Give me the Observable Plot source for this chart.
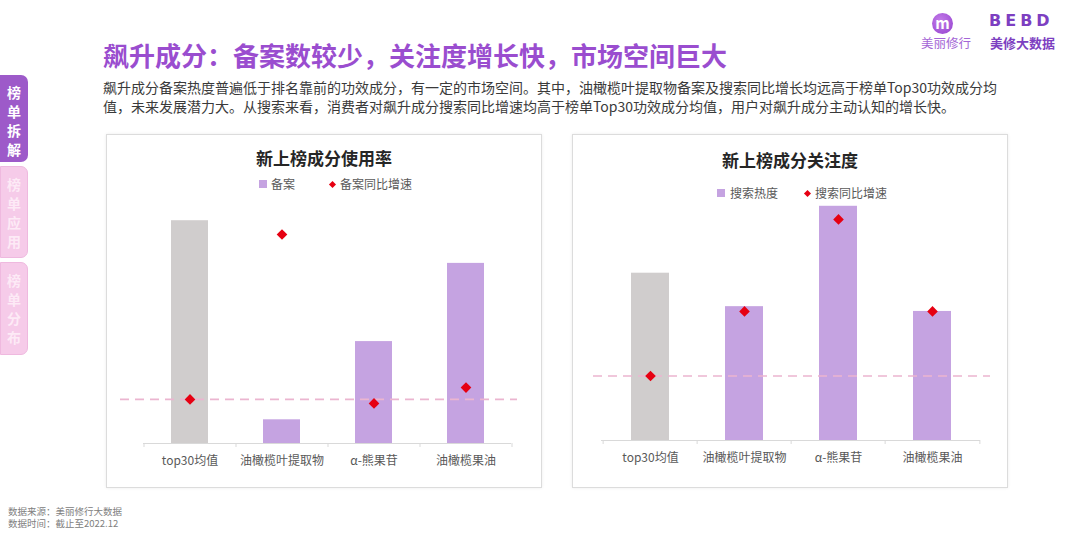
<!DOCTYPE html>
<html><head><meta charset="utf-8">
<script src="https://cdn.jsdelivr.net/npm/d3@7"></script>
<script src="https://cdn.jsdelivr.net/npm/@observablehq/plot@0.6"></script>
<style>
html,body{margin:0;padding:0;background:#fff;}
body{width:1080px;height:540px;position:relative;overflow:hidden;font-family:"Noto Sans CJK SC","Noto Sans",sans-serif;}
.abs{position:absolute;white-space:nowrap;}
.panel{position:absolute;border:1px solid #dcdcdc;box-shadow:0 0 3px rgba(0,0,0,0.08);background:#fff;}
.ptitle{position:absolute;font-size:17px;font-weight:bold;color:#262626;text-align:center;line-height:20px;}
.leg{position:absolute;font-size:12px;color:#595959;line-height:14px;white-space:nowrap;}
.sq{position:absolute;width:8px;height:8px;background:#c5a3e1;}
.dm{position:absolute;width:5px;height:5px;background:#e60012;transform:rotate(45deg);}
.tab{position:absolute;left:0;width:28px;border-radius:0 7px 7px 0;color:#fff;font-size:14px;font-weight:bold;text-align:center;line-height:19px;box-sizing:border-box;padding-top:8px;}
</style></head>
<body>
<script>
// ---- data ----
const categories = ["top30均值", "油橄榄叶提取物", "α-熊果苷", "油橄榄果油"];
const filingIndex = [94, 10, 43, 76];        // 备案 (relative index)
const filingGrowth = [18.6, 88.2, 16.9, 23.6]; // 备案同比增速 (relative index)
const searchHeat = [70, 56, 98, 54];          // 搜索热度 (relative index)
const searchGrowth = [27, 54, 92.5, 54];      // 搜索同比增速 (relative index)
const legendLeft = ["备案", "备案同比增速"];
const legendRight = ["搜索热度", "搜索同比增速"];

const GRAY = "#d0cdcd", PURPLE = "#c5a3e1", RED = "#e60012", DASH = "#ebb5d0";

function el(tag, cls, style, text){
  const e = document.createElement(tag);
  if (cls) e.className = cls;
  Object.assign(e.style, style||{});
  if (text != null) e.textContent = text;
  document.body.appendChild(e);
  return e;
}

// header
el("div","abs",{left:"103px",top:"41px",fontSize:"26px",lineHeight:"28px",fontWeight:"bold",color:"#9a4dcf"},"飙升成分：备案数较少，关注度增长快，市场空间巨大");
const sub = el("div","abs",{left:"103px",top:"78px",fontSize:"14px",lineHeight:"19px",color:"#3a3a3a"});
sub.innerHTML = "飙升成分备案热度普遍低于排名靠前的功效成分，有一定的市场空间。其中，油橄榄叶提取物备案及搜索同比增长均远高于榜单Top30功效成分均<br>值，未来发展潜力大。从搜索来看，消费者对飙升成分搜索同比增速均高于榜单Top30功效成分均值，用户对飙升成分主动认知的增长快。";

// logo
el("div","abs",{left:"932px",top:"13px",width:"21px",height:"21px",borderRadius:"50%",background:"radial-gradient(circle at 40% 35%, #c27be8, #9440cf)",color:"#fff",fontSize:"15px",fontWeight:"bold",lineHeight:"19px",textAlign:"center"},"m");
el("div","abs",{left:"921px",top:"35px",fontSize:"12.5px",lineHeight:"15px",color:"#a466d6"},"美丽修行");
el("div","abs",{left:"989px",top:"12px",fontSize:"16px",lineHeight:"18px",fontWeight:"600",color:"#7d3fc1",letterSpacing:"4px",fontFamily:"'DejaVu Sans'"},"BEBD");
el("div","abs",{left:"990px",top:"35px",fontSize:"13px",lineHeight:"15px",fontWeight:"bold",color:"#7d3fc1"},"美修大数据");

// side tabs
const t1 = el("div","tab",{top:"75px",height:"87px",background:"#9d5ac9"}); t1.innerHTML="榜<br>单<br>拆<br>解";
const t2 = el("div","tab",{top:"166px",height:"92px",background:"#f6cbe9",border:"1px solid #efb9df",color:"#fdeaf6"}); t2.innerHTML="榜<br>单<br>应<br>用";
const t3 = el("div","tab",{top:"262px",height:"93px",background:"#f6cbe9",border:"1px solid #efb9df",color:"#fdeaf6"}); t3.innerHTML="榜<br>单<br>分<br>布";

// footer
el("div","abs",{left:"8px",top:"506px",fontSize:"9.5px",lineHeight:"11px",color:"#808080"},"数据来源：美丽修行大数据");
el("div","abs",{left:"8px",top:"518px",fontSize:"9.5px",lineHeight:"11px",color:"#808080"},"数据时间：截止至2022.12");

function makeChart(opts){
  const {left, bars, growth, legend, title, titleTop, legTop, sqX, dmX, txt1X, txt2X, mTop, mBottom, mLeft, mRight, dashL, dashR} = opts;
  el("div","panel",{left:left+"px",top:"134px",width:"434px",height:"352px"});
  el("div","ptitle",{left:left+"px",top:titleTop+"px",width:"436px"},title);
  el("div","sq",{left:(sqX-4)+"px",top:(legTop-4)+"px"});
  el("div","leg",{left:txt1X+"px",top:(legTop-7)+"px"},legend[0]);
  el("div","dm",{left:(dmX-2.5)+"px",top:(legTop-2.5)+"px"});
  el("div","leg",{left:txt2X+"px",top:(legTop-7)+"px"},legend[1]);

  const W = 436;
  const step = (W - mLeft - mRight) / categories.length;
  const data = categories.map((c,i)=>({cat:c, bar:bars[i], growth:growth[i], base:i===0}));
  const chart = Plot.plot({
    width: W, height: 284,
    marginTop: mTop, marginBottom: mBottom, marginLeft: mLeft, marginRight: mRight,
    style: {fontSize:"12px", fontFamily:"'Noto Sans CJK SC', sans-serif", color:"#595959", background:"transparent", overflow:"visible"},
    x: {domain: categories, paddingInner: 0.6, paddingOuter: 0.3, label: null, tickSize: 0, tickPadding: 13},
    y: {domain: [0, 100], axis: null},
    marks: [
      Plot.barY(data.filter(d=>d.base), {x:"cat", y:"bar", fill: GRAY}),
      Plot.barY(data.filter(d=>!d.base), {x:"cat", y:"bar", fill: PURPLE}),
      Plot.ruleY([0], {stroke:"#d9d9d9", strokeWidth:1}),
      // category boundary ticks below the baseline
      Plot.ruleX(categories, {x: d=>d, y1: 0, y2: 0, dx: -step/2, insetBottom: -4, stroke:"#d9d9d9"}),
      Plot.ruleX(categories.slice(-1), {x: d=>d, y1: 0, y2: 0, dx: step/2, insetBottom: -4, stroke:"#d9d9d9"}),
      Plot.ruleY([growth[0]], {stroke: DASH, strokeWidth:1.6, strokeDasharray:"9,6", insetLeft: dashL, insetRight: dashR}),
      Plot.dot(data, {x:"cat", y:"growth", symbol:"diamond2", r:4.8, fill: RED, stroke:"none"})
    ]
  });
  const wrap = el("div","",{position:"absolute",left:left+"px",top:"196px"});
  wrap.appendChild(chart);
}

makeChart({left:106, bars:filingIndex, growth:filingGrowth, legend:legendLeft, title:"新上榜成分使用率",
  titleTop:148, legTop:184, sqX:263, dmX:332, txt1X:271, txt2X:340,
  mTop:10, mBottom:37, mLeft:37, mRight:31, dashL:-23, dashR:-6});
makeChart({left:572, bars:searchHeat, growth:searchGrowth, legend:legendRight, title:"新上榜成分关注度",
  titleTop:150, legTop:193, sqX:721, dmX:807, txt1X:730, txt2X:815,
  mTop:5, mBottom:40, mLeft:29, mRight:28, dashL:-8, dashR:-10});
</script>
</body></html>
